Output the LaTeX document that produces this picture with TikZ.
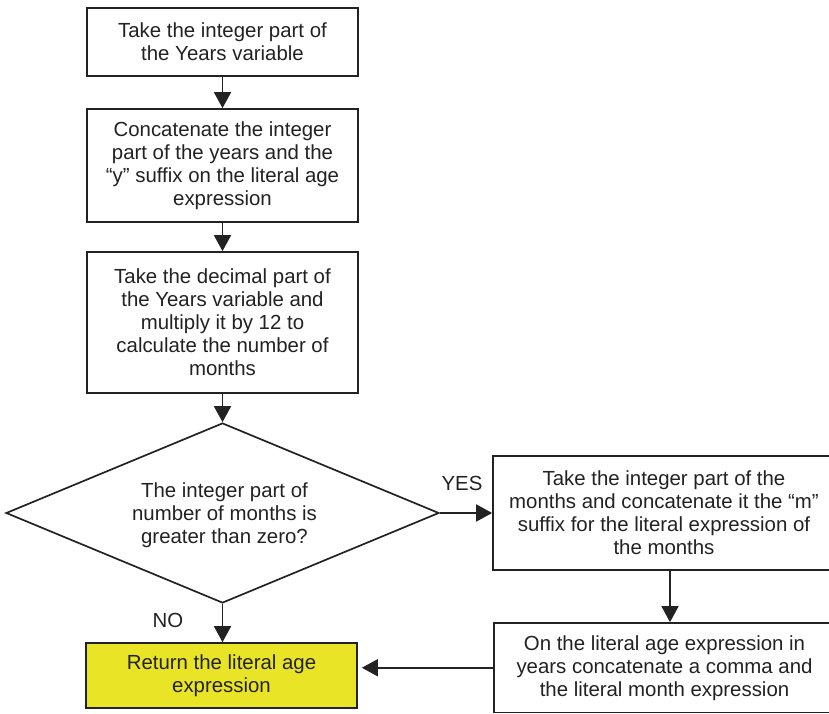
\documentclass[tikz,border=0pt]{standalone}
\usepackage{fontspec}
\setmainfont{Liberation Sans}
\usetikzlibrary{shapes.geometric,arrows.meta}
\definecolor{ink}{RGB}{34,34,34}
\definecolor{boxyellow}{RGB}{233,228,38}
\begin{document}
\begin{tikzpicture}[x=1pt,y=-1pt,
  every node/.style={font=\fontsize{20.4}{23}\selectfont, text=ink},
  procbox/.style={draw=ink, line width=1.7pt, rectangle, inner sep=0pt, align=center, fill=white},
  arr/.style={draw=ink, line width=1.7pt, -{Triangle[length=16pt,width=17pt]}},
  lbl/.style={inner sep=0pt}]
\useasboundingbox (0,0) rectangle (829,714);
\node[procbox, minimum width=271pt, minimum height=68pt] (b1) at (222.5,42)
  {Take the integer part of\\the Years variable};
\node[procbox, minimum width=271pt, minimum height=113pt] (b2) at (222.5,165.5)
  {Concatenate the integer\\part of the years and the\\“y” suffix on the literal age\\expression};
\node[procbox, minimum width=271pt, minimum height=141pt] (b3) at (222.5,322.5)
  {Take the decimal part of\\the Years variable and\\multiply it by 12 to\\calculate the number of\\months};
\node[draw=ink, line width=1.7pt, diamond, inner sep=0pt, minimum width=433pt, minimum height=180pt] (dec) at (222.5,513) {};
\node[align=center, inner sep=0pt] (dectext) at (224.5,515)
  {The integer part of\\number of months is\\greater than zero?};
\node[procbox, minimum width=342pt, minimum height=114pt] (yes) at (664,513)
  {Take the integer part of the\\months and concatenate it the “m”\\suffix for the literal expression of\\the months};
\node[procbox, minimum width=341pt, minimum height=89.5pt] (br) at (664.5,667.75)
  {On the literal age expression in\\years concatenate a comma and\\the literal month expression};
\node[procbox, fill=boxyellow, minimum width=271pt, minimum height=65pt] (ret) at (221.5,675.5)
  {Return the literal age\\expression};
\node[lbl] (yeslbl) at (462,483) {YES};
\node[lbl] (nolbl) at (168,620) {NO};
\draw[arr] (b1.south) -- (b2.north);
\draw[arr] (b2.south) -- (b3.north);
\draw[arr] (b3.south) -- (dec.north);
\draw[arr] (dec.east) -- (yes.west);
\draw[arr] (dec.south) -- (dec.south |- ret.north);
\draw[arr] ([xshift=6pt]yes.south) -- ([xshift=6pt]yes.south |- br.north);
\draw[arr, shorten >=4pt] (br.west) -- (br.west -| ret.east);
\end{tikzpicture}
\end{document}
